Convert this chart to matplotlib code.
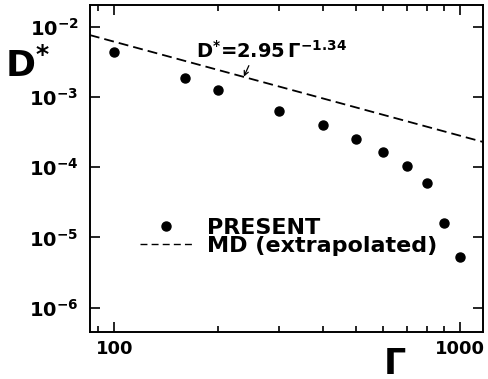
import matplotlib
matplotlib.use("Agg")
import matplotlib.pyplot as plt
from matplotlib.lines import Line2D
from matplotlib import ticker
import numpy as np

plt.rcParams["font.family"] = ["DejaVu Sans"]
plt.rcParams["font.weight"] = "bold"
plt.rcParams["mathtext.fontset"] = "custom"
plt.rcParams["mathtext.rm"] = "DejaVu Sans:bold"
plt.rcParams["mathtext.bf"] = "DejaVu Sans:bold"
plt.rcParams["mathtext.it"] = "DejaVu Sans:bold"

# present results
gamma = [100, 160, 200, 300, 400, 500, 600, 700, 800, 900, 1000]
dstar = [4.45e-3, 1.90e-3, 1.26e-3, 6.4e-4, 4.0e-4, 2.5e-4,
         1.66e-4, 1.03e-4, 5.9e-5, 1.62e-5, 5.2e-6]

# MD fit D* = a * Gamma^b
fit_a = 2.95
fit_b = -1.34

xlim = (85, 1165)
ylim = (4.5e-7, 2.06e-2)

fig = plt.figure(figsize=(4.88, 3.79), dpi=100)
ax = fig.add_axes([0.184, 0.124, 0.806, 0.863])

gfit = np.logspace(np.log10(xlim[0]), np.log10(xlim[1]), 200)
ax.plot(gfit, fit_a * gfit**fit_b, color="black", lw=1.3,
        dashes=(5.5, 2.8))
ax.plot(gamma, dstar, "o", color="black", ms=6.5, ls="none")

ax.set_xscale("log")
ax.set_yscale("log")
ax.set_xlim(*xlim)
ax.set_ylim(*ylim)

ax.xaxis.set_major_locator(ticker.FixedLocator([100, 1000]))
ax.xaxis.set_minor_locator(ticker.LogLocator(base=10, subs=np.arange(2, 10)))
ax.xaxis.set_minor_formatter(ticker.NullFormatter())
ax.xaxis.set_major_formatter(ticker.FixedFormatter(["100", "1000"]))

yt = [1e-6, 1e-5, 1e-4, 1e-3, 1e-2]
ax.yaxis.set_major_locator(ticker.FixedLocator(yt))
ax.yaxis.set_minor_locator(ticker.NullLocator())
ax.yaxis.set_major_formatter(ticker.FixedFormatter(
    [r"$10^{%d}$" % int(np.log10(v)) for v in yt]))

ax.tick_params(which="both", direction="in", top=True, right=True,
               width=1.2)
ax.tick_params(which="major", length=7)
ax.tick_params(which="minor", length=4)
ax.tick_params(axis="x", labelsize=13, pad=6)
ax.tick_params(axis="y", labelsize=14, pad=8)
for s in ax.spines.values():
    s.set_linewidth(1.4)

ax.text(-0.215, 0.815, r"D$^{*}$", transform=ax.transAxes, fontsize=26,
        fontweight="bold", ha="left", va="center")
ax.text(0.776, -0.127, "Γ", transform=ax.transAxes, fontsize=25,
        fontweight="bold", ha="center", va="baseline")

ax.annotate(r"D$^{*}$=2.95$\,$Γ$^{-1.34}$", xy=(237, 1.96e-3),
            xytext=(172, 3.65e-3), fontsize=14, fontweight="bold",
            ha="left", va="baseline")
ax.annotate("", xy=(237, 1.96e-3), xytext=(245, 2.81e-3),
            arrowprops=dict(arrowstyle="->", lw=0.9, color="black",
                            shrinkA=0, shrinkB=0, mutation_scale=8))

handles = [Line2D([], [], marker="o", color="black", ms=6.5, ls="none"),
           Line2D([], [], color="black", lw=1.0, dashes=(5, 3))]
ax.legend(handles, ["PRESENT", "MD (extrapolated)"], loc="upper left",
          bbox_to_anchor=(0.127, 0.35), frameon=False, fontsize=16,
          handlelength=2.34, handletextpad=0.68, labelspacing=-0.08,
          borderpad=0, borderaxespad=0)

fig.savefig("out.png", dpi=100)
